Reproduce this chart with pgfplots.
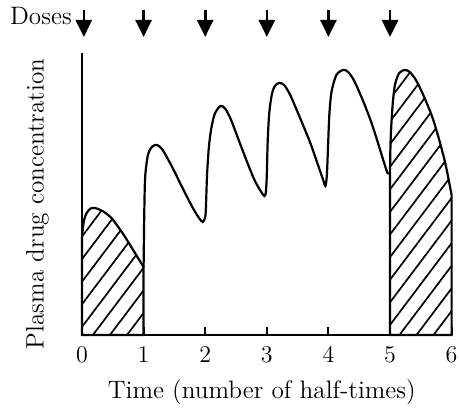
\documentclass[12pt,border=0pt]{standalone}
\usepackage{pgfplots}
\pgfplotsset{compat=1.18}
\usetikzlibrary{patterns.meta,arrows.meta}

\begin{document}
\fontsize{12.6}{15}\selectfont
\begin{tikzpicture}
\begin{axis}[
    x=30.8pt, y=0.5pt,
    xmin=0, xmax=6, ymin=0, ymax=282,
    axis x line=bottom, axis y line=left,
    axis line style={-, line width=1.2pt},
    xtick={0,...,6}, ytick=\empty,
    tick align=inside, major tick length=4pt,
    tick style={black, line width=1pt},
    xticklabel style={inner xsep=0pt, yshift=-1.5pt},
    xlabel={Time (number of half-times)},
    xlabel style={xshift=-2.5pt},
    ylabel={Plasma drug concentration},
    ylabel style={at={(axis description cs:-0.066,0.465)}, anchor=south},
    clip=false,
]
% hatched areas: first and last dosing interval
\addplot[draw=black, line width=1.1pt, smooth, tension=0.5,
    pattern={Lines[angle=53, distance=6.8pt, line width=0.85pt]}] coordinates {
    (0,98) (0.03,114) (0.076,122) (0.14,126.5) (0.21,127) (0.3,125) (0.37,122.5)
    (0.48,117) (0.6,107) (0.7,98) (0.86,82) (1,68)
} \closedcycle;
\addplot[draw=black, line width=1.1pt, smooth, tension=0.5,
    pattern={Lines[angle=53, distance=6.8pt, line width=0.85pt]}] coordinates {
    (5,162) (5.01,195) (5.04,228) (5.08,250) (5.15,262) (5.24,265) (5.32,263)
    (5.42,255) (5.54,240) (5.68,219) (5.79,197) (5.9,171) (6,140)
} \closedcycle;

% concentration between the first and the last interval
\addplot[black, line width=1.1pt, smooth, tension=0.5] coordinates {
    (1,68) (1.008,110) (1.02,150) (1.035,165) (1.07,180) (1.12,187) (1.185,190)
    (1.25,189) (1.33,183) (1.48,166) (1.64,146) (1.80,127) (1.90,117) (1.96,113)
    (1.995,117) (2.01,125) (2.03,160) (2.06,188) (2.1,207) (2.16,222) (2.25,229)
    (2.33,226) (2.42,215) (2.55,194) (2.68,173) (2.80,155) (2.90,144) (2.96,139)
    (2.985,143) (3.0,160) (3.015,195) (3.04,222) (3.08,240) (3.13,249) (3.2,252)
    (3.28,250) (3.38,240) (3.54,217) (3.70,193) (3.82,172) (3.91,156) (3.95,149)
    (3.975,160) (3.995,190) (4.015,220) (4.05,243) (4.13,260) (4.24,265)
    (4.32,263) (4.42,254) (4.57,233) (4.70,212) (4.81,191) (4.90,173) (4.96,162)
    (5,162)
};

% dose arrows
\addplot[black, line width=1.3pt, quiver={u=0, v=-27},
    -{Triangle[length=8.5pt, width=8pt]}] coordinates {
    (0.03,325) (1,325) (2,325) (3,325) (4,325) (5,325)
};
\node[anchor=base east, inner sep=0pt] at (axis cs:-0.16,310) {Doses};

\path (axis cs:-1.331,-66) rectangle (axis cs:6.12,335);
\end{axis}
\end{tikzpicture}
\end{document}
